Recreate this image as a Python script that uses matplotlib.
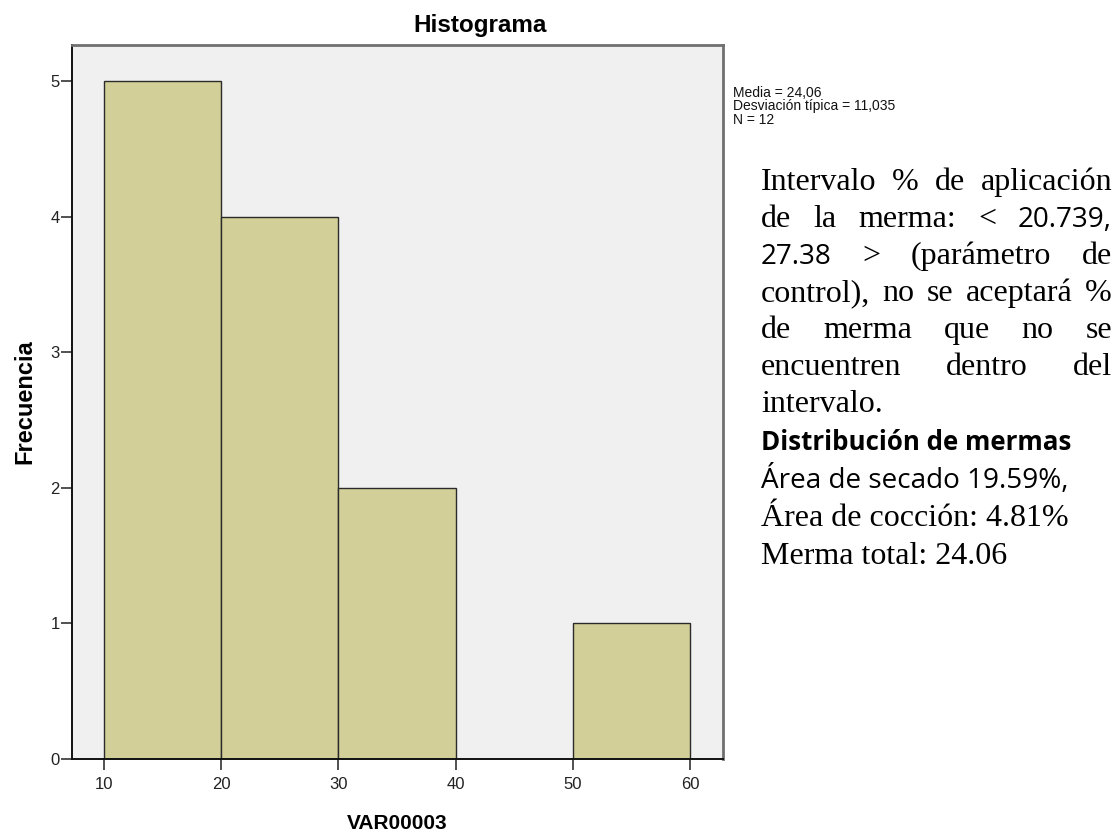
import numpy as np
import matplotlib.pyplot as plt
from matplotlib.font_manager import FontProperties
from matplotlib.transforms import IdentityTransform

# histogram data (SPSS output)
bin_edges = [10, 20, 30, 40, 50, 60]
counts = [5, 4, 2, 0, 1]
x_ticks = [10, 20, 30, 40, 50, 60]
y_ticks = [0, 1, 2, 3, 4, 5]
stats_lines = ["Media = 24,06", "Desviación típica = 11,035", "N = 12"]

W, H = 1115, 838
fig = plt.figure(figsize=(W / 100, H / 100), dpi=100)
ax = fig.add_axes([72 / W, 1 - 759 / H, 651 / W, 714 / H])
ax.set_facecolor('#f0f0f0')

ax.bar(bin_edges[:-1], counts, width=np.diff(bin_edges), align='edge',
       color='#d3cf98', edgecolor='#2a2a2a', linewidth=1.0, zorder=2)

ax.set_xlim(7.27, 62.82)
ax.set_ylim(0, 5.265)
ax.set_xticks(x_ticks)
ax.set_yticks(y_ticks)
ax.tick_params(axis='both', direction='out', length=8, width=1.2, color='#333333',
               labelcolor='#222222', labelsize=12)
ax.tick_params(axis='x', pad=5)
ax.tick_params(axis='y', pad=1)
for lab in ax.get_xticklabels() + ax.get_yticklabels():
    lab.set_family('Liberation Sans')

for s in ['left', 'bottom']:
    ax.spines[s].set_color('#111111')
    ax.spines[s].set_linewidth(1.4)
for s in ['top', 'right']:
    ax.spines[s].set_color('#707070')
    ax.spines[s].set_linewidth(2.0)

sans = 'Liberation Sans'
ax.set_xlabel('VAR00003', fontsize=15, fontweight='bold', family=sans, labelpad=16)
ax.set_ylabel('Frecuencia', fontsize=17, fontweight='bold', family=sans, labelpad=10)

px = IdentityTransform()
fig.text(480, H - 32, 'Histograma', transform=px, ha='center', va='baseline',
         fontsize=17.5, fontweight='bold', family=sans)

# stats box, one text block so the tight lines don't collide
fig.text(733, H - 86, '\n'.join(stats_lines), transform=px, ha='left', va='top',
         fontsize=10, family=sans, color='#111111', linespacing=0.95)

# ---- side note (Word text pasted next to the chart) ----
serif = FontProperties(family='Liberation Serif', size=23)
renderer = fig.canvas.get_renderer()

def text_w(s, fp):
    t = fig.text(0, 0, s, fontproperties=fp, transform=px)
    w = t.get_window_extent(renderer).width
    t.remove()
    return w

# Calibri-like font sized so its width fits the original
cal_size = 20 * 306 / text_w('Área de secado 19.59%,', FontProperties(family='Open Sans', size=20))
cal = FontProperties(family='Open Sans', size=cal_size)
cal_b = FontProperties(family='Open Sans', size=cal_size * 0.93, weight='bold')

x_left, x_right = 761, 1112
note = [
    ([('Intervalo', serif), ('%', serif), ('de', serif), ('aplicación', serif)], True),
    ([('de', serif), ('la', serif), ('merma:', serif), ('<', serif), ('20.739,', cal)], True),
    ([('27.38', cal), ('>', serif), ('(parámetro', serif), ('de', serif)], True),
    ([('control),', serif), ('no', serif), ('se', serif), ('aceptará', serif), ('%', serif)], True),
    ([('de', serif), ('merma', serif), ('que', serif), ('no', serif), ('se', serif)], True),
    ([('encuentren', serif), ('dentro', serif), ('del', serif)], True),
    ([('intervalo.', serif)], False),
    ([('Distribución de mermas', cal_b)], False),
    ([('Área de secado 19.59%,', cal)], False),
    ([('Área de cocción: 4.81%', serif)], False),
    ([('Merma total: 24.06', serif)], False),
]
baselines = [190, 227, 264, 301, 338, 375, 412, 450, 488, 526, 564]

for (tokens, justify), yb in zip(note, baselines):
    widths = [text_w(s, fp) for s, fp in tokens]
    if justify and len(tokens) > 1:
        gap = (x_right - x_left - sum(widths)) / (len(tokens) - 1)
    else:
        gap = text_w(' ', serif)
    x = x_left
    for (s, fp), w in zip(tokens, widths):
        fig.text(x, H - yb, s, fontproperties=fp, transform=px, ha='left',
                 va='baseline', color='black')
        x += w + gap

fig.savefig('out.png', dpi=100)
